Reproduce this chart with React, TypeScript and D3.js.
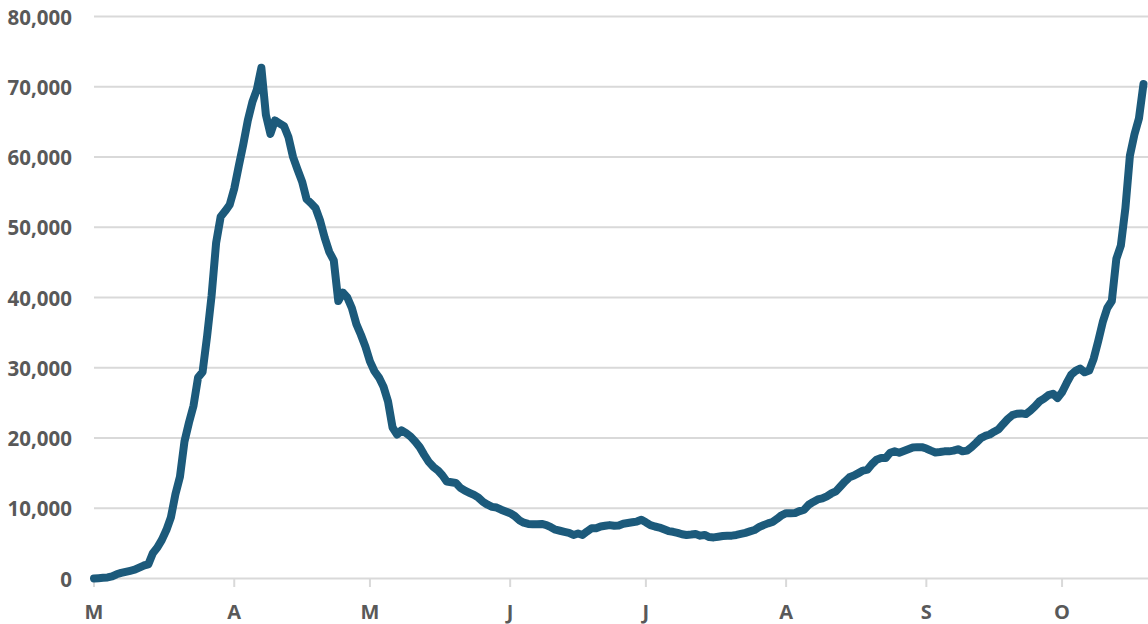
import * as d3 from 'd3';

// daily series, first value is 1 March 2020
const startDate = new Date(2020, 2, 1);
const endDate = new Date(2020, 9, 20);

const dailyCases = [
  0, 50, 100, 150, 300, 600, 800, 950, 1100, 1250,
  1550, 1850, 2000, 3600, 4400, 5500, 6900, 8700, 12000, 14500,
  19500, 22200, 24600, 28600, 29400, 34500, 40300, 47800, 51500, 52300,
  53200, 55500, 58700, 61800, 65200, 67800, 69600, 72700, 66000, 63300,
  65200, 64800, 64400, 62800, 60000, 58200, 56500, 54000, 53400, 52700,
  50900, 48500, 46500, 45300, 39500, 40700, 40000, 38500, 36200, 34700,
  33000, 30900, 29500, 28600, 27300, 25200, 21500, 20500, 21100, 20700,
  20200, 19500, 18700, 17600, 16600, 15900, 15400, 14700, 13800, 13700,
  13600, 12900, 12500, 12200, 11900, 11500, 10900, 10500, 10200, 10100,
  9800, 9550, 9300, 8900, 8300, 7950, 7770, 7720, 7710, 7760,
  7600, 7300, 6950, 6800, 6650, 6500, 6200, 6400, 6200, 6700,
  7150, 7150, 7400, 7500, 7600, 7500, 7550, 7800, 7900, 8000,
  8100, 8350, 8000, 7600, 7400, 7250, 7000, 6750, 6650, 6500,
  6300, 6200, 6250, 6330, 6100, 6200, 5900, 5850, 5950, 6050,
  6100, 6100, 6200, 6350, 6500, 6700, 6900, 7300, 7600, 7850,
  8050, 8500, 9000, 9300, 9300, 9330, 9600, 9800, 10500, 10900,
  11250, 11400, 11700, 12100, 12400, 13100, 13800, 14400, 14650, 15000,
  15360, 15500, 16300, 16900, 17150, 17150, 17900, 18100, 17900, 18150,
  18400, 18650, 18700, 18700, 18500, 18200, 17950, 18000, 18100, 18100,
  18200, 18400, 18100, 18200, 18700, 19300, 19950, 20300, 20500, 20900,
  21250, 22000, 22700, 23250, 23450, 23500, 23400, 23900, 24500, 25200,
  25600, 26100, 26300, 25700, 26500, 27800, 29000, 29550, 29880, 29350,
  29600, 31300, 33800, 36500, 38500, 39500, 45500, 47400, 52700, 60200,
  63200, 65500, 70400,
];

const monthLabels = ['M', 'A', 'M', 'J', 'J', 'A', 'S', 'O'];
const yTicks = [0, 10000, 20000, 30000, 40000, 50000, 60000, 70000, 80000];

const W = 1148;
const H = 624;

export default function App() {
  const x = d3.scaleTime().domain([startDate, endDate]).range([94, 1148]);
  const y = d3.scaleLinear().domain([0, 80000]).range([578.5, 16.5]);

  const points = dailyCases.map((v, i) => ({ date: d3.timeDay.offset(startDate, i), value: v }));
  const line = d3.line<{ date: Date; value: number }>()
    .x(d => x(d.date))
    .y(d => y(d.value));

  const months = d3.timeMonth.range(startDate, endDate);
  const fmt = d3.format(',');

  return (
    <svg
      width={W}
      height={H}
      style={{ position: 'absolute', left: 0, top: 0, display: 'block', background: '#fff' }}
      fontFamily="'Open Sans', sans-serif"
    >
      {/* gridlines */}
      {yTicks.map(t => (
        <line key={t} x1={94} x2={W} y1={y(t)} y2={y(t)} stroke="#d9d9d9" strokeWidth={2} />
      ))}

      {/* y labels */}
      {yTicks.map(t => (
        <text
          key={'l' + t}
          x={72}
          y={y(t)}
          textAnchor="end"
          dominantBaseline="central"
          fontSize={20.5}
          fontWeight={700}
          fill="#595959"
        >
          {fmt(t)}
        </text>
      ))}

      {/* month ticks and labels */}
      {months.map((m, i) => (
        <g key={i} transform={`translate(${x(m)},0)`}>
          <line y1={y(0)} y2={587} stroke="#d9d9d9" strokeWidth={2} />
          <text
            y={611}
            textAnchor="middle"
            dominantBaseline="central"
            fontSize={20}
            fontWeight={700}
            fill="#595959"
          >
            {monthLabels[i]}
          </text>
        </g>
      ))}

      <path
        d={line(points) || ''}
        fill="none"
        stroke="#1c5a7b"
        strokeWidth={8}
        strokeLinejoin="round"
        strokeLinecap="round"
      />
    </svg>
  );
}
